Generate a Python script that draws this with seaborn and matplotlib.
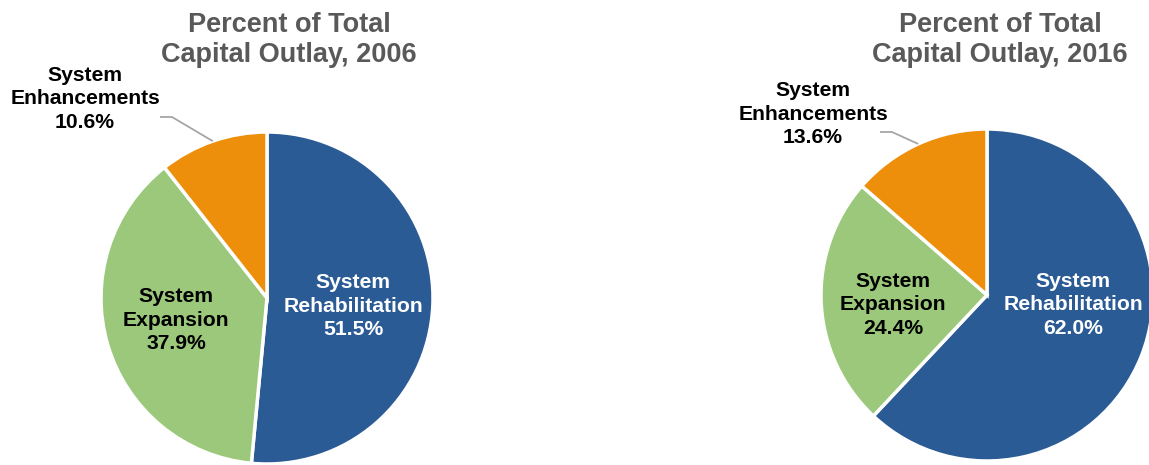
import matplotlib
matplotlib.use("Agg")
import matplotlib.pyplot as plt
import seaborn as sns
import numpy as np

# Capital outlay shares by category, in percent
categories = ["System Rehabilitation", "System Expansion", "System Enhancements"]
label_lines = [["System", "Rehabilitation"], ["System", "Expansion"], ["System", "Enhancements"]]
years = ["2006", "2016"]
shares_2006 = [51.5, 37.9, 10.6]
shares_2016 = [62.0, 24.4, 13.6]

sns.set_theme(style="white")
plt.rcParams["font.family"] = ["Liberation Sans", "DejaVu Sans"]

W, H = 1149, 465
fig = plt.figure(figsize=(W / 100, H / 100), dpi=100)
ax = fig.add_axes([0, 0, 1, 1])
ax.set_xlim(0, W)
ax.set_ylim(0, H)
ax.set_aspect("equal")
ax.axis("off")

palette = sns.color_palette(["#2B5B95", "#9BC87A", "#EE8F0C"])
text_colors = ["white", "black", "black"]
title_color = "#595959"
leader_color = "#A6A6A6"
label_size = 15.2
title_size = 19.5


def py(y):
    # convert a top-down pixel row into the axes' bottom-up coordinate
    return H - y


panels = [
    dict(year=years[0], values=shares_2006, center=(267, 298), radius=166,
         title_x=289,
         inner=[(353, 306), (176, 320)],
         outer=(85, 99), leader_start=(160, 117), leader_len=12),
    dict(year=years[1], values=shares_2016, center=(987, 295), radius=166,
         title_x=1000,
         inner=[(1073, 305), (893, 305)],
         outer=(813, 114), leader_start=(880, 132), leader_len=12),
]

for p in panels:
    cx, cy = p["center"]
    wedges, _ = ax.pie(
        p["values"], colors=palette, startangle=90, counterclock=False,
        center=(cx, py(cy)), radius=p["radius"],
        wedgeprops=dict(edgecolor="white", linewidth=2.5),
    )
    ax.set_xlim(0, W)
    ax.set_ylim(0, H)

    ax.text(p["title_x"], py(40), f"Percent of Total\nCapital Outlay, {p['year']}",
            ha="center", va="center", fontsize=title_size, fontweight="bold",
            color=title_color, linespacing=1.2)

    # labels inside the two larger wedges
    for i in range(2):
        tx, ty = p["inner"][i]
        txt = "\n".join(label_lines[i] + [f"{p['values'][i]:.1f}%"])
        ax.text(tx, py(ty), txt, ha="center", va="center", fontsize=label_size,
                fontweight="bold", color=text_colors[i], linespacing=1.31)

    # outside label with leader line for the small wedge
    ox, oy = p["outer"]
    txt = "\n".join(label_lines[2] + [f"{p['values'][2]:.1f}%"])
    ax.text(ox, py(oy), txt, ha="center", va="center", fontsize=label_size,
            fontweight="bold", color="black", linespacing=1.31)

    w = wedges[2]
    mid = np.deg2rad((w.theta1 + w.theta2) / 2)
    ex = cx + p["radius"] * np.cos(mid)
    ey = py(cy) + p["radius"] * np.sin(mid)
    sx, sy = p["leader_start"]
    ax.plot([sx, sx + p["leader_len"], ex], [py(sy), py(sy), ey],
            color=leader_color, linewidth=1.3, solid_capstyle="butt")

fig.savefig("out.png", dpi=100)
